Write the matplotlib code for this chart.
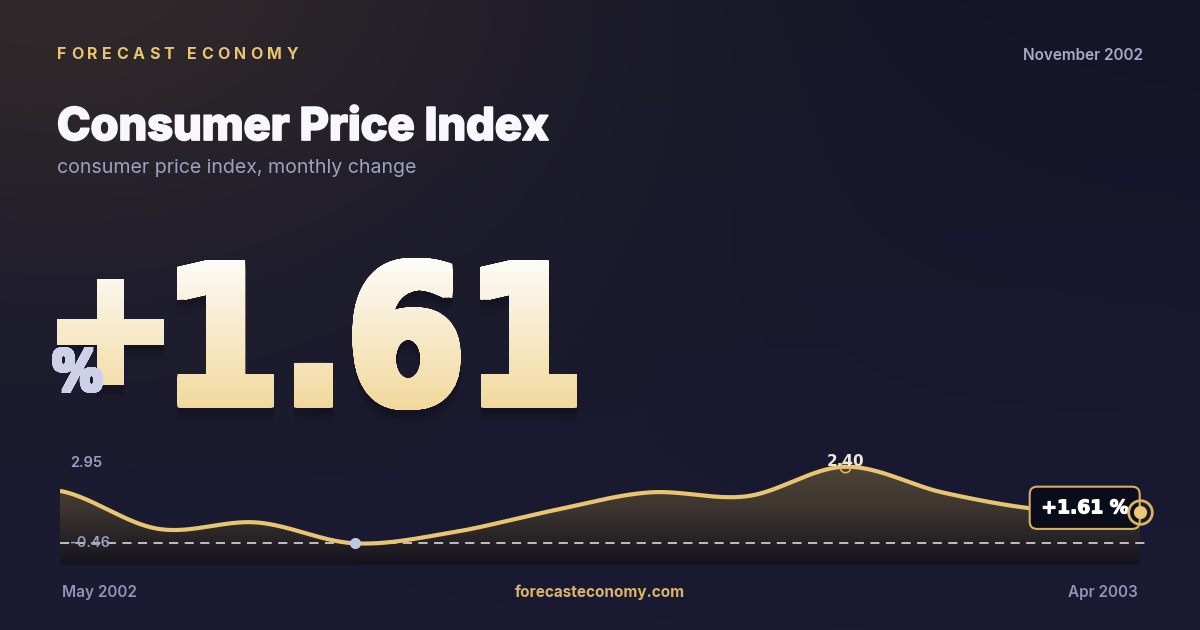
import numpy as np
import matplotlib
matplotlib.use('Agg')
import matplotlib.pyplot as plt
import matplotlib.patheffects as pe
from matplotlib.textpath import TextPath, TextToPath
from matplotlib.font_manager import FontProperties
from matplotlib.patches import PathPatch
from matplotlib.path import Path
from matplotlib.transforms import Affine2D
from matplotlib.colors import LinearSegmentedColormap, to_rgb

# data
months = ['May 2002', 'Jun 2002', 'Jul 2002', 'Aug 2002', 'Sep 2002', 'Oct 2002',
          'Nov 2002', 'Dec 2002', 'Jan 2003', 'Feb 2003', 'Mar 2003', 'Apr 2003']
cpi_change = [1.50, 0.08, 0.32, -0.46, -0.05, 0.75, 1.44, 1.30, 2.40, 1.43, 0.80, 0.70]
axis_top = 2.95
axis_bottom = -1.27
headline = '+1.61'
report_month = 'November 2002'

FONT = ['Inter', 'DejaVu Sans']
HEAVY = ['DejaVu Sans']
GOLD = '#e8c572'
PX = 72 / 100  # points per pixel at dpi 100


def cardinal_curve(y, n=80):
    # uniform catmull-rom through every point
    y = np.asarray(y, float)
    k = len(y)
    m = np.zeros(k)
    m[1:-1] = (y[2:] - y[:-2]) / 2
    m[0] = (y[1] - y[0]) / 2
    m[-1] = (y[-1] - y[-2]) / 2
    xs, ys = [], []
    for i in range(k - 1):
        u = np.linspace(0, 1, n, endpoint=(i == k - 2))
        h00 = 2 * u**3 - 3 * u**2 + 1
        h10 = u**3 - 2 * u**2 + u
        h01 = -2 * u**3 + 3 * u**2
        h11 = u**3 - u**2
        ys.append(h00 * y[i] + h10 * m[i] + h01 * y[i + 1] + h11 * m[i + 1])
        xs.append(i + u)
    return np.concatenate(xs), np.concatenate(ys)


def heavy_text_path(s, box, grow):
    # bold glyphs fitted inside box, then thickened by `grow` px (union of shifted copies)
    fp = FontProperties(family=HEAVY, weight='bold')
    path = TextPath((0, 0), s, size=100, prop=fp)
    ext = path.get_extents()
    x0, x1, ytop, ybot = box
    x0, x1, ytop, ybot = x0 + grow, x1 - grow, ytop + grow, ybot - grow
    tr = (Affine2D().translate(-ext.x0, -ext.y0)
          .scale((x1 - x0) / ext.width, -(ybot - ytop) / ext.height)
          .translate(x0, ybot))
    fitted = tr.transform_path(path)
    copies = [fitted]
    steps = np.linspace(-grow, grow, 7)
    for d in steps:
        for dx, dy in [(d, -grow), (d, grow), (-grow, d), (grow, d)]:
            copies.append(Affine2D().translate(dx, dy).transform_path(fitted))
    return Path.make_compound_path(*copies)


def spaced_text(ax, x, y, s, size, gap, **kw):
    fp = FontProperties(family=FONT, weight=kw.get('weight', 'bold'), size=size)
    ttp = TextToPath()
    for ch in s:
        ax.text(x, y, ch, fontsize=size, family=FONT, va='baseline', ha='left', **kw)
        w = ttp.get_text_width_height_descent(ch, fp, ismath=False)[0] / PX
        x += w + gap


fig = plt.figure(figsize=(12, 6.3), dpi=100)

# background with warm glow top-left
bg = fig.add_axes([0, 0, 1, 1])
bg.set_xlim(0, 1200)
bg.set_ylim(630, 0)
bg.axis('off')
yy, xx = np.mgrid[0:630, 0:1200]
base_top = np.array(to_rgb('#141528'))
base_bot = np.array(to_rgb('#1a1b33'))
t = (yy / 630.0)[..., None]
img = base_top * (1 - t) + base_bot * t
glow = np.exp(-(((xx - 60) / 520.0) ** 2 + ((yy + 40) / 330.0) ** 2))[..., None]
img = img * (1 - 0.75 * glow) + np.array(to_rgb('#3a302b')) * 0.75 * glow
bg.imshow(img, extent=(0, 1200, 630, 0), aspect='auto', zorder=0)

# header texts
spaced_text(bg, 57, 59, 'FORECAST ECONOMY', 11.5, 4.4, color=GOLD, weight='bold')
bg.text(1143, 60, report_month, fontsize=11, family=FONT, weight='semibold',
        color='#a8aac6', ha='right', va='baseline')
bg.text(57, 140, 'Consumer Price Index', fontsize=32.5, family=FONT, weight='heavy',
        color='#f8f8fc', ha='left', va='baseline',
        path_effects=[pe.withStroke(linewidth=1.3, foreground='#f8f8fc')])
bg.text(57, 173, 'consumer price index, monthly change', fontsize=14.1, family=FONT,
        color='#9ea2c0', ha='left', va='baseline')

# big headline number with gradient fill: sign and digits fitted separately
sign_path = heavy_text_path(headline[0], (57, 164, 279, 385), 4)
digits_path = heavy_text_path(headline[1:], (177, 577, 258, 410), 4.2)
big = Path.make_compound_path(sign_path, digits_path)
for dy, a in [(5, 0.09), (9, 0.08), (14, 0.06)]:
    sh = Affine2D().translate(0, dy).transform_path(big)
    bg.add_patch(PathPatch(sh, fc='black', ec='none', alpha=a, zorder=1))
big_patch = PathPatch(big, fc='none', ec='none', zorder=2)
bg.add_patch(big_patch)
cmap = LinearSegmentedColormap.from_list('num', ['#fdfcf9', '#f2d89b'])
grad = np.linspace(0, 1, 256).reshape(-1, 1)
im = bg.imshow(grad, cmap=cmap, extent=(55, 577, 410, 258), aspect='auto',
               origin='upper', zorder=2)
im.set_clip_path(big_patch)
pct = heavy_text_path('%', (52, 103, 347, 393), 1.6)
bg.add_patch(PathPatch(pct, fc='#cdd0e6', ec='none', zorder=3))

# footer texts
bg.text(62, 597, months[0], fontsize=11, family=FONT, weight='semibold',
        color='#8f93b6', ha='left', va='baseline')
bg.text(1138, 597, months[-1], fontsize=11, family=FONT, weight='semibold',
        color='#8f93b6', ha='right', va='baseline')
bg.text(600, 597, 'forecasteconomy.com', fontsize=11, family=FONT, weight='bold',
        color='#d9b56a', ha='center', va='baseline')

# sparkline chart
ax = fig.add_axes([60 / 1200, (630 - 565) / 630, 1080 / 1200, 113 / 630])
ax.set_xlim(0, len(cpi_change) - 1)
ax.set_ylim(axis_bottom, axis_top)
ax.axis('off')
ax.patch.set_alpha(0)

xs, ys = cardinal_curve(cpi_change)
fill = ax.fill_between(xs, ys, axis_bottom, color='none', lw=0)
fcmap = LinearSegmentedColormap.from_list('fill', ['#554838', '#3d352f', '#14131e'])
fim = ax.imshow(np.linspace(0, 1, 256).reshape(-1, 1), cmap=fcmap, aspect='auto',
                extent=(0, len(cpi_change) - 1, axis_bottom, axis_top),
                origin='upper', zorder=1)
fim.set_clip_path(fill.get_paths()[0], transform=ax.transData)
ax.set_xlim(0, len(cpi_change) - 1)
ax.set_ylim(axis_bottom, axis_top)

lo = int(np.argmin(cpi_change))
hi = int(np.argmax(cpi_change))
ax.axhline(cpi_change[lo], xmin=0, xmax=1.005, color='white', lw=1.1,
           dashes=(6, 4.2), alpha=0.9, zorder=2, clip_on=False)
ax.plot(xs, ys, color=GOLD, lw=3, solid_capstyle='butt', zorder=3)

ax.plot(lo, cpi_change[lo], 'o', ms=8, color='#c3c7df', mec='none', zorder=4)
ax.plot(hi, cpi_change[hi], 'o', ms=7.5, mfc='none', mec='#d9b460', mew=1.2, zorder=4)
ax.annotate(f'{cpi_change[hi]:.2f}', (hi, cpi_change[hi]), xytext=(0, 0.5),
            textcoords='offset points', ha='center', va='baseline', fontsize=11,
            family=HEAVY, weight='bold', color='#ece8df', zorder=5)

bg.text(70, 467, f'{axis_top:.2f}', fontsize=10.5, family=FONT, weight='semibold',
        color='#9c9fc0', va='baseline', zorder=5)
ax.text(10 / 1080 * (len(cpi_change) - 1), cpi_change[lo], f'{cpi_change[lo]:.2f}',
        fontsize=10.5, family=FONT, weight='semibold', color='#9c9fc0',
        va='center', ha='left', zorder=5)

last = len(cpi_change) - 1
ax.annotate(f'{headline} %', (last, cpi_change[last]), xytext=(-8.6, 3.2),
            textcoords='offset points', ha='right', va='center', fontsize=13.5,
            family=HEAVY, weight='bold', color='white', zorder=6, annotation_clip=False,
            path_effects=[pe.withStroke(linewidth=0.9, foreground='white')],
            bbox=dict(boxstyle='round,pad=0.62,rounding_size=0.4', fc='#0b0c1a',
                      ec='#d4b060', lw=1.5))
ax.plot(last, cpi_change[last], 'o', ms=17, mfc='none', mec='#d9b460', mew=2,
        zorder=7, clip_on=False)
ax.plot(last, cpi_change[last], 'o', ms=9.5, color='#ebc878', mec='none',
        zorder=7, clip_on=False)

fig.savefig('out.png', dpi=100)
